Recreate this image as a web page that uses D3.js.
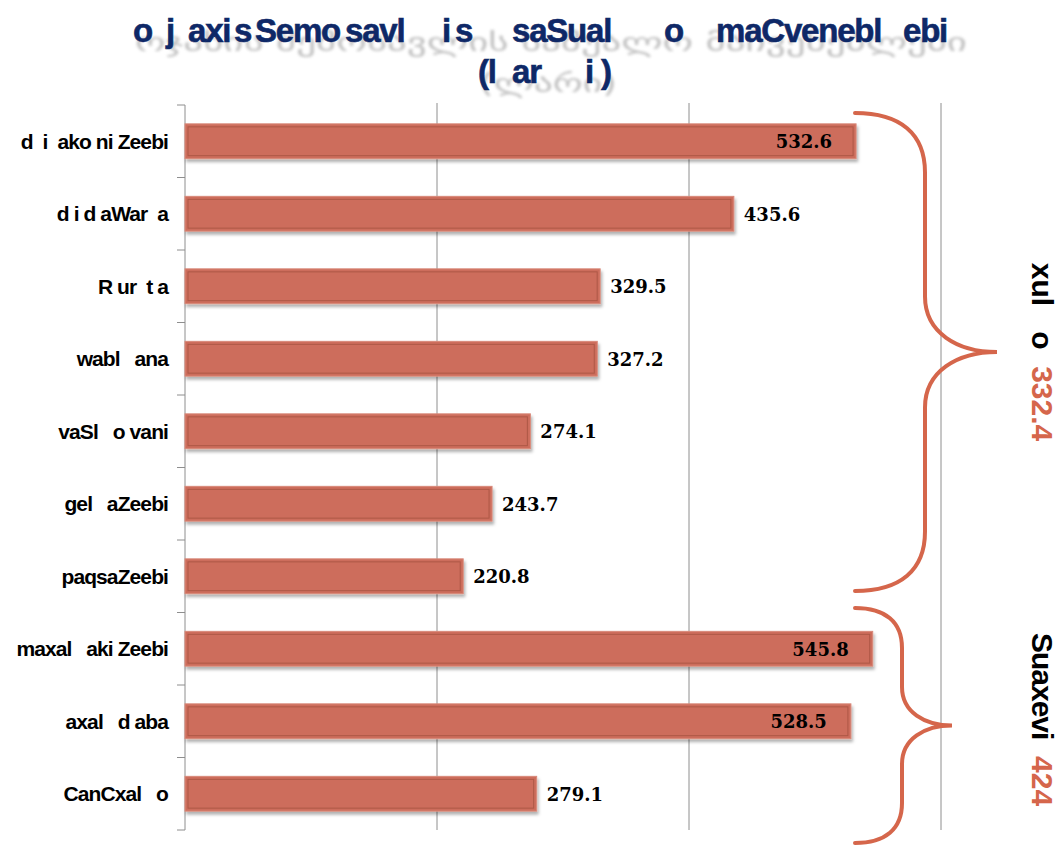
<!DOCTYPE html>
<html>
<head>
<meta charset="utf-8">
<script src="https://cdn.jsdelivr.net/npm/d3@7"></script>
<style>
  html, body { margin: 0; padding: 0; background: #ffffff; }
  svg { display: block; }
  text { white-space: pre; }
</style>
</head>
<body>
<svg id="chart" width="1059" height="846"></svg>
<script>
// ---------------- DATA ----------------
const categories = [
  "d  i  ako ni Zeebi",
  "d i d aWar  a",
  "R ur  t a",
  "wabl   ana",
  "vaSl   o vani",
  "gel   aZeebi",
  "paqsaZeebi",
  "maxal   aki Zeebi",
  "axal   d aba",
  "CanCxal   o"
];
const values = [532.6, 435.6, 329.5, 327.2, 274.1, 243.7, 220.8, 545.8, 528.5, 279.1];
const gridTicks = [200, 400, 600];
const groupNames = ["xul   o", "Suaxevi"];
const groupAverages = ["332.4", "424"];
const titleLine1 = ["o", "j", "axi", "s", "Semo", "savl", "i", "s", "saSual", "o", "maCvenebl", "ebi"];
const titleLine2 = ["(l", "ar", "i", ")"];
const titleShadow1 = "ოჯახის შემოსავლის საშუალო მაჩვენებლები";
const titleShadow2 = "(ლარი)";

// ---------------- LAYOUT ----------------
const titleX1 = [133, 166, 188, 234, 255, 345, 442, 455, 512, 664, 716, 903];
const titleX2 = [478, 512, 585, 601];
const braceLayout = [
  { xs: 855, xm: 925, xt: 997, yt: 113, yb: 591, textShift: 0 },
  { xs: 855, xm: 902, xt: 952, yt: 608, yb: 843, textShift: -6 }
];
const barColor = "#CD6D5B";
const accent = "#D5664B";
const titleColor = "#0E2867";

const svg = d3.select("#chart");
const defs = svg.append("defs");
const sh = defs.append("filter").attr("id", "barShadow")
  .attr("x", "-5%").attr("y", "-30%").attr("width", "110%").attr("height", "170%");
sh.append("feDropShadow").attr("dx", 1.5).attr("dy", 3).attr("stdDeviation", 1.8)
  .attr("flood-color", "#000").attr("flood-opacity", 0.3);
const blur = defs.append("filter").attr("id", "titleBlur");
blur.append("feGaussianBlur").attr("stdDeviation", 1.5);

const x = d3.scaleLinear().domain([0, 600]).range([185, 941]);
const y = d3.scaleBand().domain(categories).range([105, 830])
  .paddingInner(0.52).paddingOuter(0.26);

// gridlines
svg.append("g").selectAll("line").data(gridTicks).join("line")
  .attr("x1", d => x(d)).attr("x2", d => x(d))
  .attr("y1", 103).attr("y2", 830)
  .attr("stroke", "#8e8e8e").attr("stroke-width", 1);

// left axis (line + ticks at band boundaries)
const axisG = svg.append("g").attr("transform", `translate(${x(0)},0)`);
axisG.call(d3.axisLeft(y).tickSize(0).tickFormat(""));
axisG.select(".domain").attr("stroke", "#8e8e8e").attr("d", `M0,${y.range()[0]}V${y.range()[1]}`);
const bounds = d3.range(categories.length + 1).map(i => y.range()[0] + i * y.step());
axisG.selectAll(".bnd").data(bounds).join("line").attr("class", "bnd")
  .attr("x1", -8).attr("x2", 0).attr("y1", d => d).attr("y2", d => d)
  .attr("stroke", "#8e8e8e");

// category labels
svg.append("g").selectAll("text").data(categories).join("text")
  .attr("x", 168).attr("y", d => y(d) + y.bandwidth() / 2)
  .attr("dy", "0.36em").attr("text-anchor", "end")
  .attr("font-family", "'Liberation Sans Narrow', 'Arial Narrow', 'Liberation Sans', Arial, sans-serif")
  .attr("font-weight", "bold").attr("font-size", 21).attr("fill", "#000")
  .attr("letter-spacing", "-0.9")
  .text(d => d);

// bars
const bars = svg.append("g").selectAll("g").data(values).join("g");
bars.append("rect")
  .attr("x", x(0)).attr("y", (d, i) => y(categories[i]))
  .attr("width", d => x(d) - x(0)).attr("height", y.bandwidth())
  .attr("fill", barColor).attr("stroke", "#D98A7B").attr("stroke-width", 1)
  .attr("filter", "url(#barShadow)");
bars.append("rect")
  .attr("x", x(0) + 3).attr("y", (d, i) => y(categories[i]) + 3)
  .attr("width", d => x(d) - x(0) - 6).attr("height", y.bandwidth() - 6)
  .attr("fill", "none").attr("stroke", "#A3503F").attr("stroke-opacity", 0.75).attr("stroke-width", 1);

// value labels
svg.append("g").selectAll("text").data(values).join("text")
  .attr("x", d => d > 500 ? x(d) - 24 : x(d) + 10)
  .attr("y", (d, i) => y(categories[i]) + y.bandwidth() / 2)
  .attr("dy", "0.38em")
  .attr("text-anchor", d => d > 500 ? "end" : "start")
  .attr("font-family", "'DejaVu Serif', Georgia, serif")
  .attr("font-weight", "bold").attr("font-size", 18).attr("fill", "#000")
  .text(d => d.toFixed(1));

// braces
function bracePath(b) {
  const r1 = 0.85 * (b.xm - b.xs), r2 = 0.77 * (b.xt - b.xm), yc = (b.yt + b.yb) / 2;
  const p = d3.path();
  p.moveTo(b.xs, b.yt);
  p.bezierCurveTo(b.xs + (b.xm - b.xs) * 0.65, b.yt, b.xm, b.yt + r1 * 0.35, b.xm, b.yt + r1);
  p.lineTo(b.xm, yc - r2);
  p.bezierCurveTo(b.xm, yc - r2 * 0.35, b.xm + (b.xt - b.xm) * 0.45, yc, b.xt, yc);
  p.bezierCurveTo(b.xm + (b.xt - b.xm) * 0.45, yc, b.xm, yc + r2 * 0.35, b.xm, yc + r2);
  p.lineTo(b.xm, b.yb - r1);
  p.bezierCurveTo(b.xm, b.yb - r1 * 0.35, b.xs + (b.xm - b.xs) * 0.65, b.yb, b.xs, b.yb);
  return p.toString();
}
svg.append("g").selectAll("path").data(braceLayout).join("path")
  .attr("d", bracePath).attr("fill", "none").attr("stroke", accent)
  .attr("stroke-width", 4).attr("stroke-linecap", "round");

// group annotations (rotated)
const ann = svg.append("g").selectAll("text").data(groupNames).join("text")
  .attr("transform", (d, i) => `translate(1043,${(braceLayout[i].yt + braceLayout[i].yb) / 2 + braceLayout[i].textShift}) rotate(90)`)
  .attr("text-anchor", "middle").attr("dy", "0.36em")
  .attr("font-family", "'Liberation Sans', Arial, sans-serif")
  .attr("font-weight", "bold").attr("font-size", 30);
ann.append("tspan").attr("fill", "#000").attr("letter-spacing", (d, i) => i === 1 ? "-1" : "0").text(d => d);
ann.append("tspan").attr("fill", accent).text((d, i) => "  " + groupAverages[i]);

// title: grey shadow layer
const tg = svg.append("g");
tg.append("text").attr("x", 135).attr("y", 51)
  .attr("textLength", 832).attr("lengthAdjust", "spacingAndGlyphs")
  .attr("font-family", "'DejaVu Sans', sans-serif").attr("font-size", 26)
  .attr("fill", "#8a8a8a").attr("opacity", 0.55).attr("filter", "url(#titleBlur)")
  .text(titleShadow1);
tg.append("text").attr("x", 479).attr("y", 92)
  .attr("textLength", 138).attr("lengthAdjust", "spacingAndGlyphs")
  .attr("font-family", "'DejaVu Sans', sans-serif").attr("font-size", 26)
  .attr("fill", "#8a8a8a").attr("opacity", 0.55).attr("filter", "url(#titleBlur)")
  .text(titleShadow2);
// title: blue layer
function titleText(yPos, segs, xs) {
  const t = tg.append("text").attr("y", yPos)
    .attr("font-family", "'Liberation Sans', Arial, sans-serif")
    .attr("font-weight", "bold").attr("font-size", 33).attr("fill", titleColor)
    .attr("stroke", titleColor).attr("stroke-width", 0.6)
    .attr("letter-spacing", "-1.2");
  t.selectAll("tspan").data(segs).join("tspan")
    .attr("x", (d, i) => xs[i]).text(d => d);
}
titleText(42, titleLine1, titleX1);
titleText(83, titleLine2, titleX2);
</script>
</body>
</html>
